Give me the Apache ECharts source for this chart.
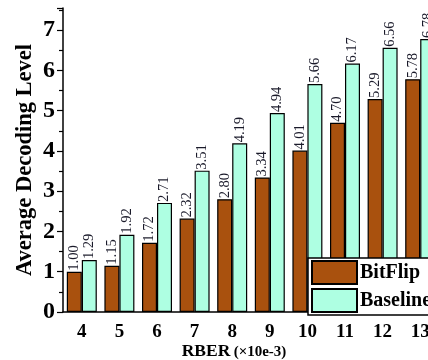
<!DOCTYPE html>
<html>
<head>
<meta charset="utf-8">
<script src="https://cdn.jsdelivr.net/npm/echarts@6/dist/echarts.min.js"></script>
<style>
  html, body { margin: 0; padding: 0; background: #fff; }
  #chart { width: 428px; height: 360px; }
</style>
</head>
<body>
<div id="chart"></div>
<script>
// values
var rber = ['4', '5', '6', '7', '8', '9', '10', '11', '12', '13'];
var bitFlip = [1.00, 1.15, 1.72, 2.32, 2.80, 3.34, 4.01, 4.70, 5.29, 5.78];
var baseline = [1.29, 1.92, 2.71, 3.51, 4.19, 4.94, 5.66, 6.17, 6.56, 6.78];

var serif = '"Liberation Serif", "DejaVu Serif", serif';

var barLabel = {
  show: true,
  position: 'top',
  rotate: 90,
  align: 'left',
  verticalAlign: 'middle',
  distance: 1,
  fontFamily: serif,
  fontSize: 14.5,
  color: '#1a1a2a',
  formatter: function (p) { return p.value.toFixed(2); }
};

var chart = echarts.init(document.getElementById('chart'));
chart.setOption({
  animation: false,
  backgroundColor: '#fff',
  grid: { left: 63, top: 8, width: 376, height: 304, outerBoundsMode: 'none', containLabel: false },
  legend: {
    orient: 'vertical',
    left: 308,
    top: 258,
    icon: 'rect',
    itemWidth: 45,
    itemHeight: 23,
    itemGap: 3,
    padding: [2, 40, 2, 3],
    backgroundColor: '#fff',
    borderColor: '#000',
    borderWidth: 1.5,
    textStyle: { fontFamily: serif, fontWeight: 'bold', fontSize: 20, color: '#000', padding: [0, 0, 0, -2] },
    data: ['BitFlip', 'Baseline']
  },
  xAxis: [{
    type: 'category',
    data: rber,
    name: '{a|RBER} {b|(×10e-3)}',
    nameLocation: 'middle',
    nameMoveOverlap: false,
    nameGap: 30,
    nameTextStyle: {
      padding: [0, 34, 0, 0],
      rich: {
        a: { fontFamily: serif, fontWeight: 'bold', fontSize: 17.5, color: '#000' },
        b: { fontFamily: serif, fontWeight: 'bold', fontSize: 15, color: '#000', padding: [3, 0, 0, 0] }
      }
    },
    axisLine: { lineStyle: { color: '#000', width: 1.5 } },
    axisTick: { alignWithLabel: true, length: 5, lineStyle: { color: '#000', width: 1.2 } },
    axisLabel: { fontFamily: serif, fontWeight: 'bold', fontSize: 19, color: '#000', margin: 11 }
  }, {
    type: 'category',
    data: rber,
    position: 'bottom',
    axisLine: { show: false },
    axisTick: { length: 3, lineStyle: { color: '#000', width: 1.2 } },
    axisLabel: { show: false }
  }],
  yAxis: {
    type: 'value',
    min: 0,
    max: 7.55,
    interval: 1,
    name: 'Average Decoding Level',
    nameLocation: 'middle',
    nameMoveOverlap: false,
    nameGap: 26,
    nameTextStyle: { fontFamily: serif, fontWeight: 'bold', fontSize: 22.5, color: '#000' },
    splitLine: { show: false },
    axisLine: { show: true, lineStyle: { color: '#000', width: 1.5 } },
    axisTick: { show: true, length: 6, lineStyle: { color: '#000', width: 1.2 } },
    minorTick: { show: true, splitNumber: 2, length: 4, lineStyle: { color: '#000', width: 1.2 } },
    axisLabel: { fontFamily: serif, fontWeight: 'bold', fontSize: 24, color: '#000', margin: 8 }
  },
  series: [{
    name: 'BitFlip',
    type: 'bar',
    data: bitFlip,
    barWidth: 15,
    barGap: '0%',
    itemStyle: { color: '#a9510e', borderColor: '#000', borderWidth: 1.2 },
    label: barLabel
  }, {
    name: 'Baseline',
    type: 'bar',
    data: baseline,
    barWidth: 15,
    barGap: '0%',
    itemStyle: { color: '#aeffe2', borderColor: '#000', borderWidth: 1.2 },
    label: barLabel
  }]
});
</script>
</body>
</html>
